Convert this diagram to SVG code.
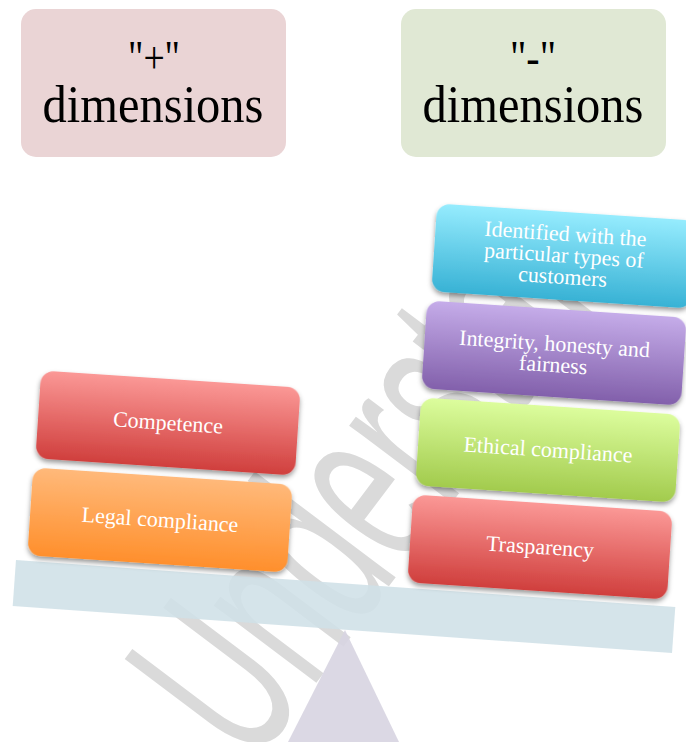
<svg xmlns="http://www.w3.org/2000/svg" width="686" height="742" viewBox="0 0 686 742">
  <defs>
    <linearGradient id="gRed" x1="0" y1="0" x2="0" y2="1">
      <stop offset="0" stop-color="#fb9896"/>
      <stop offset="1" stop-color="#d03f3d"/>
    </linearGradient>
    <linearGradient id="gOrange" x1="0" y1="0" x2="0" y2="1">
      <stop offset="0" stop-color="#ffb97a"/>
      <stop offset="1" stop-color="#ff8f2c"/>
    </linearGradient>
    <linearGradient id="gGreen" x1="0" y1="0" x2="0" y2="1">
      <stop offset="0" stop-color="#dcfd9d"/>
      <stop offset="1" stop-color="#a2cb4d"/>
    </linearGradient>
    <linearGradient id="gPurple" x1="0" y1="0" x2="0" y2="1">
      <stop offset="0" stop-color="#c5ace9"/>
      <stop offset="1" stop-color="#8260ab"/>
    </linearGradient>
    <linearGradient id="gCyan" x1="0" y1="0" x2="0" y2="1">
      <stop offset="0" stop-color="#96ecfe"/>
      <stop offset="1" stop-color="#38b2d5"/>
    </linearGradient>
    <filter id="shadow" x="-10%" y="-20%" width="120%" height="150%">
      <feDropShadow dx="0" dy="3" stdDeviation="2.5" flood-color="#000" flood-opacity="0.4"/>
    </filter>
    <!-- keeps the watermark out of the open area above the right stack -->
    <clipPath id="markClip">
      <polygon points="0,742 0,300 420,300 420,208 686,222 686,742"/>
    </clipPath>
  </defs>
  <style>
    .head { font-family: "Liberation Serif", "Times New Roman", serif; font-size: 52px; fill: #000; text-anchor: middle; }
    .sign { font-family: "Liberation Serif", "Times New Roman", serif; font-size: 46px; fill: #000; text-anchor: middle; }
    .lbl { font-family: "Liberation Serif", "Times New Roman", serif; font-size: 22px; fill: #fff; text-anchor: middle; }
    .block { filter: url(#shadow); }
    .mark { font-family: "Liberation Sans", Arial, sans-serif; font-size: 135px; fill: #dadada; }
  </style>

  <rect width="686" height="742" fill="#fff"/>

  <!-- faint background watermark -->
  <g id="watermark" clip-path="url(#markClip)">
    <text class="mark" transform="translate(252,768) rotate(-53) scale(1,1.8)">Understanding</text>
  </g>

  <!-- header cards -->
  <g id="plus-header">
    <rect x="21" y="9" width="265" height="148" rx="15" fill="#ead4d5"/>
    <text class="sign" x="154" y="73" textLength="52" lengthAdjust="spacingAndGlyphs">"+"</text>
    <text class="head" x="153" y="122" textLength="221" lengthAdjust="spacingAndGlyphs">dimensions</text>
  </g>
  <g id="minus-header">
    <rect x="401" y="9" width="265" height="148" rx="15" fill="#e0e8d4"/>
    <text class="sign" x="533" y="73" textLength="46" lengthAdjust="spacingAndGlyphs">"-"</text>
    <text class="head" x="533" y="122" textLength="221" lengthAdjust="spacingAndGlyphs">dimensions</text>
  </g>

  <!-- balance: fulcrum and beam -->
  <g id="fulcrum">
    <polygon points="345,630 288,742 399,742" fill="#d8d5e2" opacity="0.92"/>
  </g>
  <g id="beam">
    <rect x="-330" y="-23" width="661" height="46" fill="#cfe0e7" opacity="0.88" transform="translate(343.5,606.5) rotate(4.08)"/>
  </g>

  <!-- left pan -->
  <g id="legal-compliance" transform="translate(160,520) rotate(3.8)">
    <rect class="block" x="-130" y="-44" width="260" height="88" rx="13" fill="url(#gOrange)"/>
    <text class="lbl" x="0" y="7">Legal compliance</text>
  </g>
  <g id="competence" transform="translate(168,423) rotate(3.8)">
    <rect class="block" x="-130" y="-44" width="260" height="88" rx="13" fill="url(#gRed)"/>
    <text class="lbl" x="0" y="7">Competence</text>
  </g>

  <!-- right pan -->
  <g id="trasparency" transform="translate(540,547) rotate(3.8)">
    <rect class="block" x="-130" y="-44" width="260" height="88" rx="13" fill="url(#gRed)"/>
    <text class="lbl" x="0" y="7">Trasparency</text>
  </g>
  <g id="ethical-compliance" transform="translate(548,450) rotate(3.8)">
    <rect class="block" x="-130" y="-44" width="260" height="88" rx="13" fill="url(#gGreen)"/>
    <text class="lbl" x="0" y="7">Ethical compliance</text>
  </g>
  <g id="integrity" transform="translate(554,353) rotate(3.8)">
    <rect class="block" x="-130" y="-44" width="260" height="88" rx="13" fill="url(#gPurple)"/>
    <text class="lbl" x="0" y="-2">Integrity, honesty and</text>
    <text class="lbl" x="0" y="19">fairness</text>
  </g>
  <g id="identified" transform="translate(564,256) rotate(3.8)">
    <rect class="block" x="-130" y="-44" width="260" height="88" rx="13" fill="url(#gCyan)"/>
    <text class="lbl" x="0" y="-15">Identified with the</text>
    <text class="lbl" x="0" y="6.5">particular types of</text>
    <text class="lbl" x="0" y="28">customers</text>
  </g>
</svg>
